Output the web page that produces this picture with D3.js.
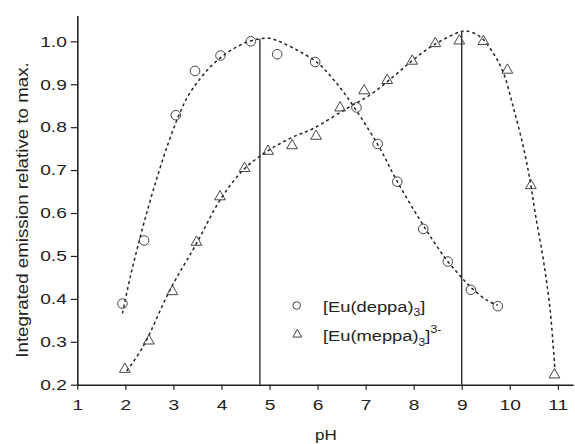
<!DOCTYPE html>
<html>
<head>
<meta charset="utf-8">
<script src="https://cdn.jsdelivr.net/npm/d3@7/dist/d3.min.js"></script>
<style>
  html, body { margin: 0; padding: 0; background: #fff; }
  svg { display: block; font-family: "Liberation Sans", Arial, sans-serif; }
</style>
</head>
<body>
<svg id="chart" width="575" height="444"></svg>
<script>
// Measured points: [Eu(deppa)3]
const phDeppa  = [1.94, 2.39, 3.05, 3.45, 3.98, 4.61, 5.16, 5.95, 6.81, 7.25, 7.66, 8.20, 8.71, 9.19, 9.75];
const relDeppa = [0.389, 0.536, 0.828, 0.931, 0.967, 1.000, 0.970, 0.952, 0.846, 0.761, 0.673, 0.563, 0.487, 0.421, 0.383];

// Measured points: [Eu(meppa)3]3-
const phMeppa  = [1.99, 2.49, 2.98, 3.48, 3.97, 4.48, 4.97, 5.47, 5.97, 6.47, 6.97, 7.45, 7.97, 8.45, 8.95, 9.45, 9.95, 10.44, 10.93];
const relMeppa = [0.236, 0.302, 0.417, 0.532, 0.638, 0.704, 0.744, 0.757, 0.779, 0.845, 0.885, 0.909, 0.954, 0.995, 1.001, 1.000, 0.933, 0.664, 0.223];

// Fitted trend curves (dashed)
const phDeppaFit  = [1.94, 2.10, 2.30, 2.50, 2.70, 2.90, 3.10, 3.30, 3.55, 3.80, 4.05, 4.30, 4.55, 4.80, 5.00, 5.22, 5.60, 6.00, 6.30, 6.61, 7.25, 7.66, 8.13, 8.45, 8.71, 8.98, 9.19, 9.52, 9.75];
const relDeppaFit = [0.366, 0.450, 0.540, 0.622, 0.697, 0.765, 0.824, 0.872, 0.912, 0.944, 0.968, 0.986, 0.999, 1.006, 1.007, 0.999, 0.978, 0.950, 0.915, 0.871, 0.760, 0.673, 0.584, 0.528, 0.487, 0.452, 0.427, 0.397, 0.385];

const phMeppaFit  = [2.03, 2.37, 2.93, 3.48, 3.97, 4.45, 4.94, 5.43, 5.91, 6.61, 7.09, 7.58, 7.99, 8.41, 8.96, 9.10, 9.38, 9.66, 9.87, 10.07, 10.28, 10.42, 10.53, 10.70, 10.84, 10.94];
const relMeppaFit = [0.232, 0.289, 0.421, 0.529, 0.630, 0.700, 0.743, 0.774, 0.797, 0.844, 0.875, 0.918, 0.957, 0.991, 1.022, 1.024, 1.011, 0.972, 0.926, 0.848, 0.755, 0.677, 0.599, 0.490, 0.374, 0.234];

// Vertical markers at the maxima of the two fits
const peakPh  = [4.8, 9.0];
const peakRel = [1.006, 1.023];

// Axes
const xTicks = [1, 2, 3, 4, 5, 6, 7, 8, 9, 10, 11];
const yTicks = [0.2, 0.3, 0.4, 0.5, 0.6, 0.7, 0.8, 0.9, 1.0];
const xTitle = "pH";
const yTitle = "Integrated emission relative to max.";

const ink = "#222";
const tickStretch = 1.28;    // wide sans look for tick labels
const textStretch = 1.22;    // legend and x title

const svg = d3.select("#chart");
svg.append("rect").attr("width", 575).attr("height", 444).attr("fill", "#fff");

const x = d3.scaleLinear().domain([1, 11.32]).range([77.3, 573.2]);
const y = d3.scaleLinear().domain([0.2, 1.06]).range([384.7, 15.6]);

const xMinor = d3.range(6, 57).map(i => i / 5).filter(v => Math.abs(v - Math.round(v)) > 1e-6);
const yMinor = d3.range(11, 54).map(i => i / 50).filter(v => Math.abs(v * 10 - Math.round(v * 10)) > 1e-6);

// x axis
const gx = svg.append("g").attr("transform", `translate(0,${y(0.2)})`);
gx.call(d3.axisBottom(x).tickValues(xMinor).tickSize(3).tickSizeOuter(0).tickFormat(""));
gx.call(d3.axisBottom(x).tickValues(xTicks).tickSize(5).tickSizeOuter(0).tickPadding(10).tickFormat(d3.format("d")));

// y axis
const gy = svg.append("g").attr("transform", `translate(${x(1)},0)`);
gy.call(d3.axisLeft(y).tickValues(yMinor).tickSize(3.3).tickSizeOuter(0).tickFormat(""));
gy.call(d3.axisLeft(y).tickValues(yTicks).tickSize(6.5).tickSizeOuter(0).tickPadding(4).tickFormat(d3.format(".1f")));

svg.selectAll(".domain").attr("stroke", ink).attr("stroke-width", 1.6);
svg.selectAll(".tick line").attr("stroke", ink).attr("stroke-width", 1.2);
svg.selectAll(".tick text")
  .attr("fill", ink)
  .attr("font-size", 15)
  .attr("font-family", "'Liberation Sans', Arial, sans-serif");
gx.selectAll(".tick text").attr("transform", `scale(${tickStretch},1)`);
gy.selectAll(".tick text").each(function () {
  const t = d3.select(this);
  t.attr("x", +t.attr("x") / tickStretch).attr("transform", `scale(${tickStretch},1)`);
});

// Axis titles
svg.append("text")
  .attr("transform", `translate(326,440) scale(${textStretch},1)`)
  .attr("text-anchor", "middle")
  .attr("font-size", 14)
  .attr("fill", ink)
  .text(xTitle);

svg.append("text")
  .attr("transform", `translate(28,210) rotate(-90) scale(1.17,1)`)
  .attr("text-anchor", "middle")
  .attr("font-size", 16)
  .attr("fill", ink)
  .text(yTitle);

// Vertical lines at the maxima
svg.append("g").selectAll("line")
  .data(peakPh.map((p, i) => ({ p, r: peakRel[i] })))
  .join("line")
  .attr("x1", d => x(d.p)).attr("x2", d => x(d.p))
  .attr("y1", y(0.2)).attr("y2", d => y(d.r))
  .attr("stroke", ink).attr("stroke-width", 1.3);

// Dashed fits
const line = d3.line().x(d => x(d[0])).y(d => y(d[1])).curve(d3.curveCatmullRom.alpha(0.5));
[[phDeppaFit, relDeppaFit], [phMeppaFit, relMeppaFit]].forEach(([px, py]) => {
  svg.append("path")
    .datum(px.map((v, i) => [v, py[i]]))
    .attr("d", line)
    .attr("fill", "none")
    .attr("stroke", ink)
    .attr("stroke-width", 1.5)
    .attr("stroke-dasharray", "3,3");
});

// Markers
const markerStroke = "#444";
svg.append("g").selectAll("circle")
  .data(phDeppa.map((p, i) => [p, relDeppa[i]]))
  .join("circle")
  .attr("cx", d => x(d[0])).attr("cy", d => y(d[1]))
  .attr("r", 4.8)
  .attr("fill", "none")
  .attr("stroke", markerStroke).attr("stroke-width", 1);

const tri = d3.symbol().type(d3.symbolTriangle).size(50);
svg.append("g").selectAll("path")
  .data(phMeppa.map((p, i) => [p, relMeppa[i]]))
  .join("path")
  .attr("d", tri)
  .attr("transform", d => `translate(${x(d[0])},${y(d[1])})`)
  .attr("fill", "none")
  .attr("stroke", markerStroke).attr("stroke-width", 1);

// Legend
const leg = svg.append("g");
leg.append("circle").attr("cx", 296.7).attr("cy", 305.5).attr("r", 3.8)
  .attr("fill", "none").attr("stroke", markerStroke).attr("stroke-width", 1);
leg.append("path").attr("d", d3.symbol().type(d3.symbolTriangle).size(34)())
  .attr("transform", "translate(297.3,334.5)")
  .attr("fill", "none").attr("stroke", markerStroke).attr("stroke-width", 1);

const t1 = leg.append("text")
  .attr("transform", `translate(323,311.5) scale(${textStretch},1)`)
  .attr("font-size", 15).attr("fill", ink);
t1.append("tspan").text("[Eu(deppa)");
t1.append("tspan").attr("font-size", 10).attr("dy", 4.5).text("3");
t1.append("tspan").attr("dy", -4.5).text("]");

const t2 = leg.append("text")
  .attr("transform", `translate(323,341) scale(${textStretch},1)`)
  .attr("font-size", 15).attr("fill", ink);
t2.append("tspan").text("[Eu(meppa)");
t2.append("tspan").attr("font-size", 10).attr("dy", 5).text("3");
t2.append("tspan").attr("dy", -5).text("]");
t2.append("tspan").attr("font-size", 10).attr("dy", -8).text("3-");
</script>
</body>
</html>
